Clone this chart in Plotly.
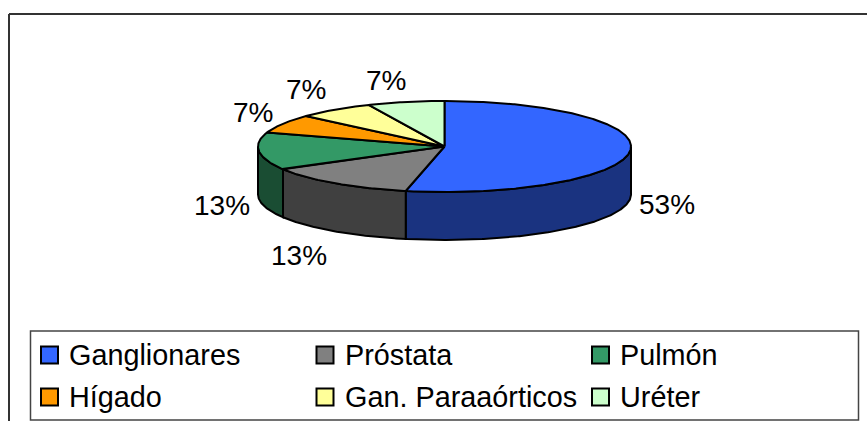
import numpy as np
import plotly.graph_objects as go

categories = ["Ganglionares", "Próstata", "Pulmón", "Hígado", "Gan. Paraaórticos", "Uréter"]
counts = [8, 2, 2, 1, 1, 1]
top_colors = ["#3366FF", "#808080", "#339966", "#FF9900", "#FFFF99", "#CCFFCC"]
side_colors = ["#1A3380", "#404040", "#1A4D33", "#804D00", "#80804D", "#668066"]

# pie geometry, in pixels (axes below map 1:1 on the window)
cx, cy = 444.5, 146.5
rx, ry = 186.5, 45.5
depth = 48
label_pos = [(667, 204), (299, 255), (222, 205), (253, 112), (306, 89), (386, 80)]

legend_x = [49.5, 325, 600.5]
legend_y = [355, 397]
legend_text_gap = 17.5

total = sum(counts)
edges = np.cumsum([0] + counts) / total * 360


def rim(a0, a1, dy=0):
    t = np.radians(np.linspace(a0, a1, max(2, int(abs(a1 - a0)) * 2)))
    return cx + rx * np.sin(t), cy - ry * np.cos(t) + dy


fig = go.Figure()

# side walls first, only the front half of the rim is visible
for i in range(len(counts)):
    a0, a1 = max(edges[i], 90), min(edges[i + 1], 270)
    if a0 >= a1:
        continue
    x0, y0 = rim(a0, a1)
    x1, y1 = rim(a0, a1, depth)
    fig.add_trace(go.Scatter(
        x=np.r_[x0, x1[::-1], x0[0]], y=np.r_[y0, y1[::-1], y0[0]],
        mode="lines", fill="toself", fillcolor=side_colors[i],
        line=dict(color="black", width=2), hoverinfo="skip", showlegend=False))

# top face
for i, name in enumerate(categories):
    x0, y0 = rim(edges[i], edges[i + 1])
    fig.add_trace(go.Scatter(
        x=np.r_[cx, x0, cx], y=np.r_[cy, y0, cy],
        mode="lines", fill="toself", fillcolor=top_colors[i],
        line=dict(color="black", width=2), name=name, showlegend=False))

for i, c in enumerate(counts):
    fig.add_annotation(x=label_pos[i][0], y=label_pos[i][1], text=f"{round(c / total * 100)}%",
                       showarrow=False, font=dict(family="Liberation Sans", size=28, color="black"))

# frame (open on the right) and legend box
fig.add_shape(type="line", x0=9, x1=9, y0=14, y1=421, line=dict(color="#333333", width=2))
fig.add_shape(type="line", x0=9, x1=867, y0=14, y1=14, line=dict(color="#333333", width=2))
fig.add_shape(type="rect", x0=30.5, x1=858.5, y0=331, y1=420,
              fillcolor="white", line=dict(color="#444444", width=1.5), layer="below")

for i, name in enumerate(categories):
    lx, ly = legend_x[i % 3], legend_y[i // 3]
    fig.add_trace(go.Scatter(
        x=[lx], y=[ly], mode="markers", hoverinfo="skip", showlegend=False,
        marker=dict(symbol="square", size=17, color=top_colors[i], line=dict(color="black", width=2))))
    fig.add_annotation(x=lx + legend_text_gap, y=ly, text=name, showarrow=False, xanchor="left",
                       font=dict(family="Liberation Sans", size=28.8, color="black"))

fig.update_layout(
    width=867, height=421,
    margin=dict(l=0, r=0, t=0, b=0),
    paper_bgcolor="white", plot_bgcolor="white",
    xaxis=dict(range=[0, 867], visible=False, fixedrange=True),
    yaxis=dict(range=[421, 0], visible=False, fixedrange=True),
)

# the page body has a default margin that would push the chart off the window
fig.write_html("out.html", config={"displayModeBar": False},
               post_script="document.body.style.margin='0';document.body.style.overflow='hidden';")
